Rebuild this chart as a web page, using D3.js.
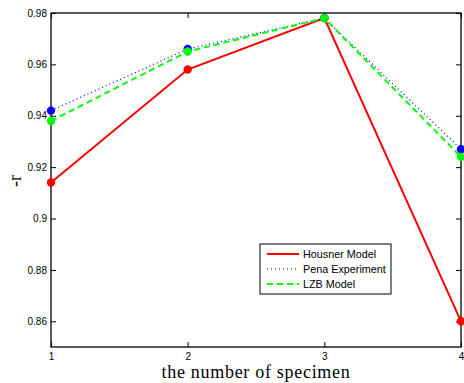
<!DOCTYPE html>
<html>
<head>
<meta charset="utf-8">
<script src="https://cdn.jsdelivr.net/npm/d3@7"></script>
<style>
  body { margin: 0; background: #fff; }
  svg { display: block; }
</style>
</head>
<body>
<div id="chart"></div>
<script>
var specimens = [1, 2, 3, 4];
var housner = [0.914, 0.958, 0.978, 0.860];
var pena = [0.942, 0.966, 0.978, 0.927];
var lzb = [0.938, 0.965, 0.978, 0.924];
var yTicks = [0.86, 0.88, 0.9, 0.92, 0.94, 0.96, 0.98];
var seriesNames = ["Housner Model", "Pena Experiment", "LZB Model"];

function init(){
    var w = 464;
    var h = 383;
    var left = 51, right = 461, top = 13, bottom = 347;

    var series = [
        {name: seriesNames[0], values: housner, color: "#ff0000", dash: null, width: 2},
        {name: seriesNames[1], values: pena, color: "#0000ff", dash: "1,3", width: 1.2},
        {name: seriesNames[2], values: lzb, color: "#00ff00", dash: "6,4", width: 2}
    ];

    var xscale = d3.scaleLinear().domain([1, 4]).range([left, right]);
    var yscale = d3.scaleLinear().domain([0.85, 0.98]).range([bottom, top]);

    var svg = d3.select("#chart")
                .append("svg")
                .attr("width", w)
                .attr("height", h);

    // axes box
    var fmt = function(d) { return d3.format("")(+d.toFixed(2)); };
    var axisFont = "Liberation Sans, Arial, sans-serif";

    var yAxis = svg.append("g")
        .attr("transform", "translate(" + left + ",0)")
        .call(d3.axisLeft(yscale).tickValues(yTicks).tickSize(-5).tickPadding(4)
              .tickFormat(fmt));
    var yAxisR = svg.append("g")
        .attr("transform", "translate(" + right + ",0)")
        .call(d3.axisRight(yscale).tickValues(yTicks).tickSize(-5).tickFormat(""));
    var xAxis = svg.append("g")
        .attr("transform", "translate(0," + bottom + ")")
        .call(d3.axisBottom(xscale).tickValues(specimens).tickSize(-5).tickPadding(6)
              .tickFormat(d3.format("d")));
    var xAxisT = svg.append("g")
        .attr("transform", "translate(0," + top + ")")
        .call(d3.axisTop(xscale).tickValues(specimens).tickSize(-5).tickFormat(""));

    [yAxis, yAxisR, xAxis, xAxisT].forEach(function(g) {
        g.select(".domain").remove();
        g.selectAll("line").attr("stroke", "#000").attr("stroke-width", 1);
        g.selectAll("text").style("font-family", axisFont).style("font-size", "10px").attr("fill", "#000");
    });

    svg.append("rect")
        .attr("x", left).attr("y", top)
        .attr("width", right - left).attr("height", bottom - top)
        .attr("fill", "none").attr("stroke", "#000").attr("stroke-width", 1.3);

    var line = d3.line()
        .x(function(d, i) { return xscale(specimens[i]); })
        .y(function(d) { return yscale(d); });

    series.forEach(function(s) {
        svg.append("path")
            .datum(s.values)
            .attr("d", line)
            .attr("fill", "none")
            .attr("stroke", s.color)
            .attr("stroke-width", s.width)
            .attr("stroke-dasharray", s.dash);
        svg.selectAll(null)
            .data(s.values)
            .enter()
            .append("circle")
            .attr("cx", function(d, i) { return xscale(specimens[i]); })
            .attr("cy", function(d) { return yscale(d); })
            .attr("r", 4.2)
            .attr("fill", s.color);
    });

    // legend
    var lg = svg.append("g").attr("transform", "translate(260,244)");
    lg.append("rect")
        .attr("width", 131).attr("height", 50)
        .attr("fill", "#fff").attr("stroke", "#000").attr("stroke-width", 1);
    series.forEach(function(s, i) {
        var yy = 10 + i * 15;
        lg.append("line")
            .attr("x1", 7).attr("x2", 39)
            .attr("y1", yy).attr("y2", yy)
            .attr("stroke", s.color)
            .attr("stroke-width", s.width)
            .attr("stroke-dasharray", s.dash);
        lg.append("text")
            .attr("x", 43).attr("y", yy + 4)
            .text(s.name)
            .style("font-family", axisFont)
            .style("font-size", "10.8px");
    });

    svg.append("text")
        .attr("x", (left + right) / 2)
        .attr("y", 378)
        .attr("text-anchor", "middle")
        .style("font-family", "Liberation Serif, serif")
        .style("font-size", "18px")
        .style("letter-spacing", "0.7px")
        .text("the number of specimen");

    svg.append("text")
        .attr("transform", "translate(21,181) rotate(-90)")
        .attr("text-anchor", "middle")
        .style("font-family", "Liberation Serif, serif")
        .style("font-size", "18px")
        .text("-r");
}
window.onload = init;
</script>
</body>
</html>
